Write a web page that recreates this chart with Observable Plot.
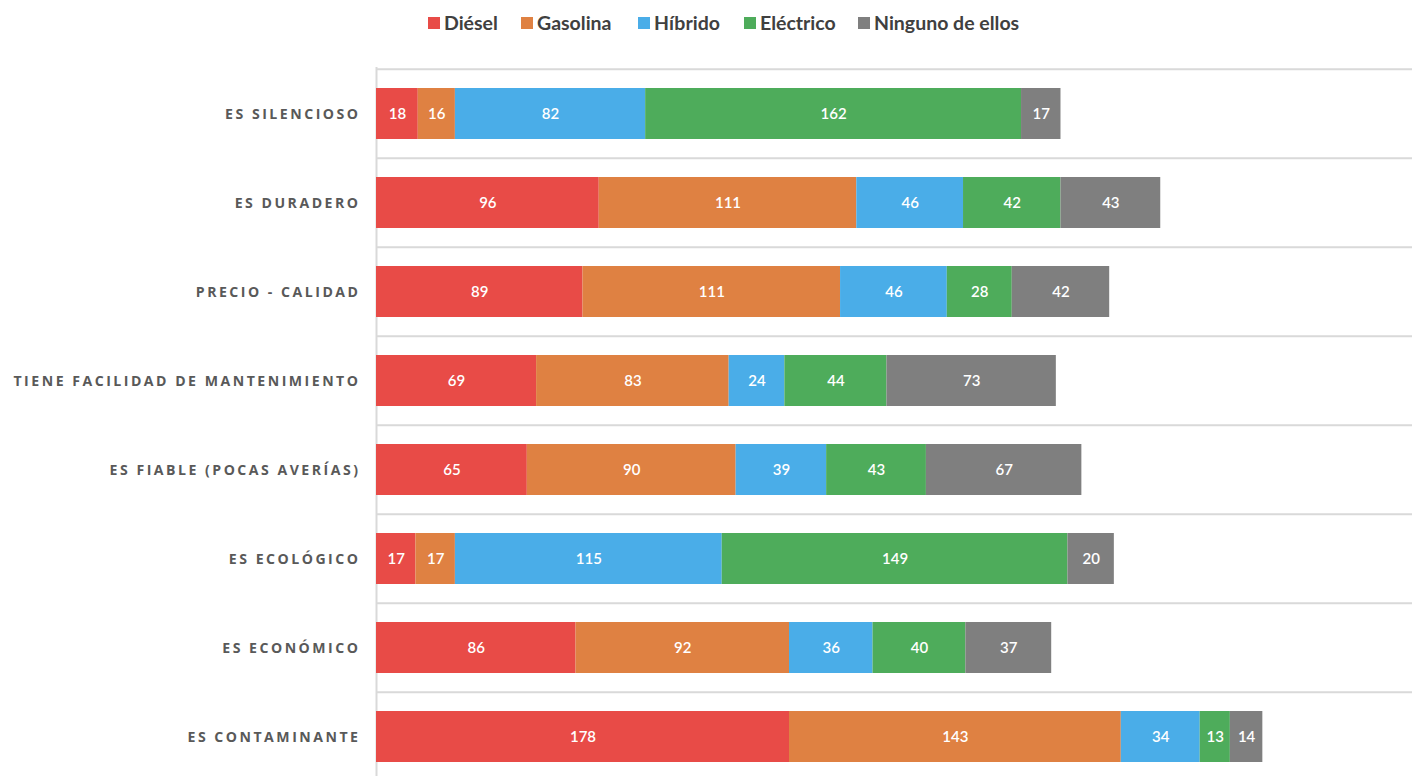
<!DOCTYPE html>
<html>
<head>
<meta charset="utf-8">
<script src="https://cdn.jsdelivr.net/npm/d3@7"></script>
<script src="https://cdn.jsdelivr.net/npm/@observablehq/plot@0.6"></script>
<style>
  html, body { margin: 0; padding: 0; background: #fff; overflow: hidden; }
  #legend { position: relative; height: 48px; font-family: Lato, "Open Sans", sans-serif; font-weight: 700; font-size: 19.5px; color: #404040; }
  #legend .item { position: absolute; top: 11px; display: flex; align-items: center; white-space: nowrap; }
  #legend .sw { width: 12px; height: 12px; margin-right: 4px; }
  svg [aria-label="y-axis tick label"] text { letter-spacing: 2.5px; }
</style>
</head>
<body>
<div id="legend"></div>
<div id="chart"></div>
<script>
const categories = [
  "ES SILENCIOSO",
  "ES DURADERO",
  "PRECIO - CALIDAD",
  "TIENE FACILIDAD DE MANTENIMIENTO",
  "ES FIABLE (POCAS AVERÍAS)",
  "ES ECOLÓGICO",
  "ES ECONÓMICO",
  "ES CONTAMINANTE"
];
const seriesNames = ["Diésel", "Gasolina", "Híbrido", "Eléctrico", "Ninguno de ellos"];
const seriesColors = ["#E84B47", "#DF8142", "#4AADE8", "#4EAC5B", "#7F7F7F"];
const diesel    = [18, 96, 89, 69, 65, 17, 86, 178];
const gasolina  = [16, 111, 111, 83, 90, 17, 92, 143];
const hibrido   = [82, 46, 46, 24, 39, 115, 36, 34];
const electrico = [162, 42, 28, 44, 43, 149, 40, 13];
const ninguno   = [17, 43, 42, 73, 67, 20, 37, 14];
const legendX   = [428, 521, 638, 744, 858];

const seriesValues = [diesel, gasolina, hibrido, electrico, ninguno];
const data = [];
categories.forEach((c, i) => {
  seriesNames.forEach((s, j) => data.push({cat: c, series: s, value: seriesValues[j][i]}));
});

// legend
const lg = document.getElementById("legend");
seriesNames.forEach((s, j) => {
  const it = document.createElement("div");
  it.className = "item";
  it.style.left = legendX[j] + "px";
  it.innerHTML = `<span class="sw" style="background:${seriesColors[j]}"></span><span>${s}</span>`;
  lg.appendChild(it);
});

const width = 1412, height = 735, marginTop = 19, marginBottom = 0, marginLeft = 376, marginRight = 0;
const step = (height - marginTop - marginBottom) / categories.length;

const chart = Plot.plot({
  width, height, marginTop, marginBottom, marginLeft, marginRight,
  style: {fontFamily: "Lato, 'Open Sans', sans-serif", background: "#fff"},
  x: {domain: [0, 446.5], axis: null},
  y: {domain: categories, paddingInner: 0.43, paddingOuter: 0.215, label: null},
  color: {domain: seriesNames, range: seriesColors},
  marks: [
    Plot.ruleY(categories, {y: d => d, dy: -step / 2, stroke: "#d9d9d9", strokeWidth: 2}),
    Plot.ruleY(categories.slice(-1), {y: d => d, dy: step / 2, stroke: "#d9d9d9", strokeWidth: 2}),
    Plot.ruleX([0], {stroke: "#d9d9d9", strokeWidth: 2}),
    Plot.barX(data, Plot.stackX({x: "value", y: "cat", z: "series", fill: "series", order: seriesNames})),
    Plot.text(data, Plot.stackX({x: "value", y: "cat", z: "series", order: seriesNames, text: d => String(d.value), fill: "white", fontSize: 15, fontWeight: 600})),
    Plot.axisY({tickSize: 0, tickPadding: 16, fontSize: 14.1, fontWeight: "bold", fill: "#595959", fontFamily: "'Open Sans', sans-serif"})
  ]
});
document.getElementById("chart").appendChild(chart);
</script>
</body>
</html>
